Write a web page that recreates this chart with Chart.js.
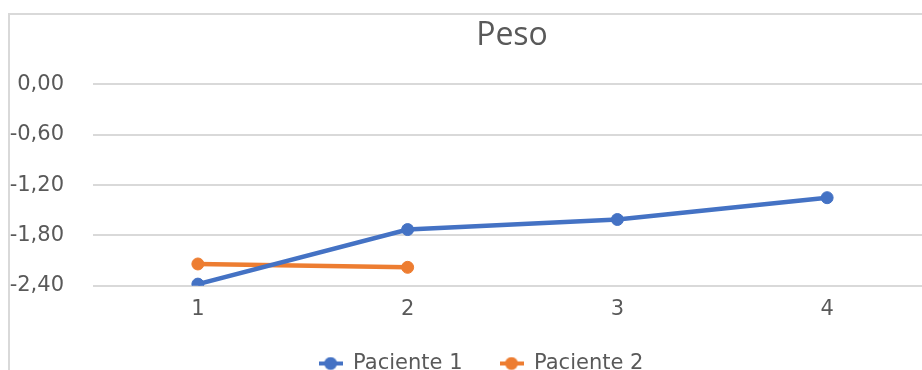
<!DOCTYPE html>
<html>
<head>
<meta charset="utf-8">
<script src="https://cdn.jsdelivr.net/npm/chart.js@4/dist/chart.umd.min.js"></script>
<style>
  html, body { margin: 0; padding: 0; background: #ffffff; overflow: hidden; width: 922px; height: 370px; }
  #frame {
    position: absolute; left: 8px; top: 13px;
    width: 1008px; height: 369px;
    border-left: 2px solid #d9d9d9; border-top: 2px solid #d9d9d9;
  }
  canvas { display: block; }
</style>
</head>
<body>
<div id="frame"><canvas id="c" width="1008" height="369" style="width:1008px;height:369px"></canvas></div>
<script>
// Weight z-scores per visit
const categories = ['1', '2', '3', '4'];
const paciente1 = [-2.38, -1.73, -1.61, -1.35];
const paciente2 = [-2.14, -2.18, null, null];
const yTickValues = [0, -0.6, -1.2, -1.8, -2.4];
const seriesNames = ['Paciente 1', 'Paciente 2'];
const seriesColors = ['#4472C4', '#ED7D31'];

const textColor = '#595959';
const gridColor = '#d9d9d9';

// Legend marker: short line with a dot, as in office-style line charts
function legendMarker(color) {
  const cv = document.createElement('canvas');
  cv.width = 24; cv.height = 14;
  const g = cv.getContext('2d');
  g.strokeStyle = color;
  g.lineWidth = 4;
  g.beginPath(); g.moveTo(0, 7); g.lineTo(24, 7); g.stroke();
  g.fillStyle = color;
  g.beginPath(); g.arc(12, 7, 6.5, 0, Math.PI * 2); g.fill();
  return cv;
}

const fmt = v => v.toFixed(2).replace('.', ',');

// Title and legend sit at their own horizontal offsets inside the frame
const boxShift = {
  id: 'boxShift',
  afterLayout(chart) {
    chart.titleBlock.left += 41;
    chart.titleBlock.right += 41;
    chart.legend.left += 10;
    chart.legend.right += 10;
  }
};

new Chart(document.getElementById('c'), {
  type: 'line',
  data: {
    labels: categories,
    datasets: [paciente1, paciente2].map((vals, i) => ({
      label: seriesNames[i],
      data: vals,
      borderColor: seriesColors[i],
      backgroundColor: seriesColors[i],
      borderWidth: 4.5,
      pointRadius: 6,
      pointBorderWidth: 1,
      pointBackgroundColor: seriesColors[i],
      pointBorderColor: seriesColors[i],
      tension: 0,
      spanGaps: false
    }))
  },
  options: {
    responsive: false,
    animation: false,
    devicePixelRatio: 1,
    layout: { padding: { left: 0, right: 86, top: 0, bottom: 0 } },
    scales: {
      x: {
        type: 'category',
        offset: true,
        grid: { display: false, drawTicks: false },
        border: { display: false },
        ticks: {
          color: textColor,
          font: { family: 'DejaVu Sans', size: 21 },
          padding: 11,
          maxRotation: 0
        },
        afterFit(scale) { scale.height -= 17; }
      },
      y: {
        min: -2.4,
        max: 0,
        afterBuildTicks(scale) {
          scale.ticks = yTickValues.map(v => ({ value: v }));
        },
        afterFit(scale) { scale.width = 83; },
        grid: { color: gridColor, lineWidth: 2, drawTicks: false, tickLength: 0 },
        border: { display: false },
        ticks: {
          color: textColor,
          font: { family: 'DejaVu Sans', size: 21 },
          padding: 29,
          callback: v => fmt(v)
        }
      }
    },
    plugins: {
      title: {
        display: true,
        text: 'Peso',
        color: textColor,
        font: { family: 'Open Sans', size: 32, weight: 'normal' },
        padding: { top: 2, bottom: 29 }
      },
      legend: {
        position: 'bottom',
        labels: {
          color: textColor,
          font: { family: 'DejaVu Sans', size: 21 },
          usePointStyle: true,
          pointStyleWidth: 24,
          boxHeight: 14,
          padding: 37,
          generateLabels(chart) {
            const items = Chart.defaults.plugins.legend.labels.generateLabels(chart);
            items.forEach((it, i) => { it.pointStyle = legendMarker(seriesColors[i]); });
            return items;
          }
        }
      },
      tooltip: { enabled: false }
    }
  },
  plugins: [boxShift]
});
</script>
</body>
</html>
